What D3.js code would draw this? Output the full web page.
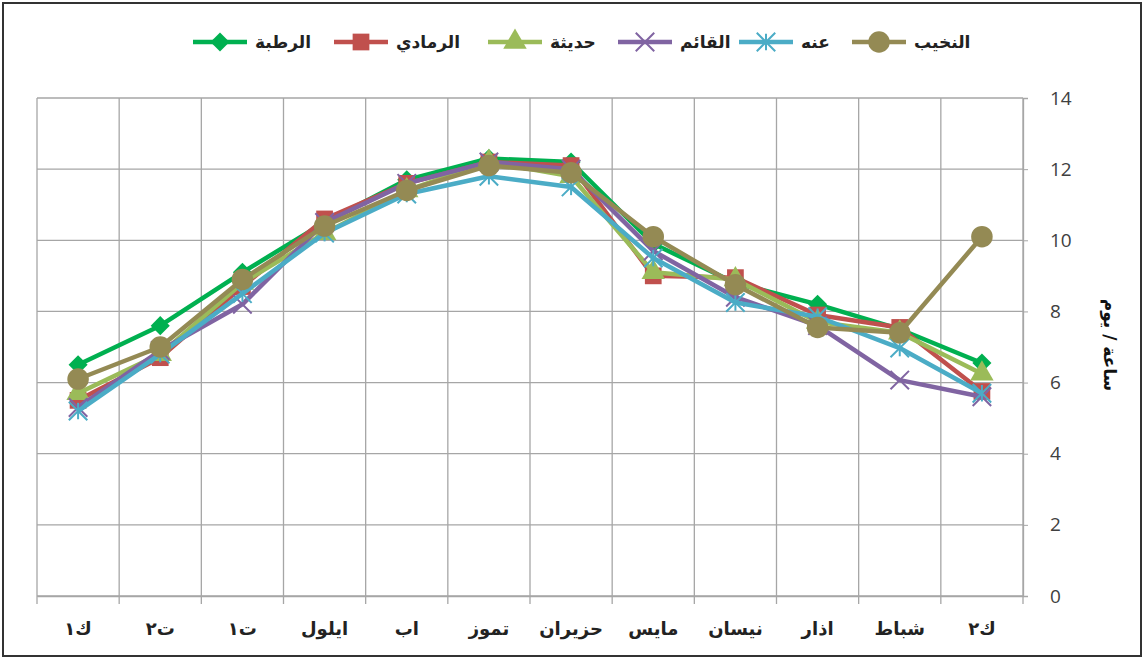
<!DOCTYPE html>
<html>
<head>
<meta charset="utf-8">
<script src="https://cdn.jsdelivr.net/npm/d3@7"></script>
<style>
  body { margin: 0; background: #fff; }
  svg { font-family: Arial, "DejaVu Sans", sans-serif; }
</style>
</head>
<body>
<div class="canvas"></div>
<script>
// months, left to right as in the picture (right-to-left calendar)
const months = ['ك١', 'ت٢', 'ت١', 'ايلول', 'اب', 'تموز', 'حزيران', 'مايس', 'نيسان', 'اذار', 'شباط', 'ك٢'];
const yTicks = [0, 2, 4, 6, 8, 10, 12, 14];

const rutba   = [6.5, 7.6, 9.1, 10.5, 11.7, 12.3, 12.2, 9.9, 8.8, 8.2, 7.5, 6.55];
const ramadi  = [5.5, 6.7, 8.7, 10.6, 11.6, 12.2, 12.1, 9.0, 8.95, 7.9, 7.55, 5.75];
const haditha = [5.7, 6.8, 8.8, 10.2, 11.4, 12.2, 11.8, 9.1, 8.9, 7.7, 7.4, 6.25];
const qaim    = [5.3, 6.9, 8.2, 10.5, 11.6, 12.2, 12.0, 9.7, 8.4, 7.6, 6.07, 5.6];
const ana     = [5.2, 6.8, 8.5, 10.2, 11.3, 11.8, 11.5, 9.5, 8.25, 7.85, 6.97, 5.7];
const nukhaib = [6.1, 7.0, 8.9, 10.4, 11.4, 12.1, 11.9, 10.1, 8.75, 7.55, 7.4, 10.1];

const series = [
  { name: 'الرطبة', values: rutba, color: '#00b050', marker: 'diamond' },
  { name: 'الرمادي', values: ramadi, color: '#c0504d', marker: 'square' },
  { name: 'حديثة', values: haditha, color: '#9bbb59', marker: 'triangle' },
  { name: 'القائم', values: qaim, color: '#8064a2', marker: 'x' },
  { name: 'عنه', values: ana, color: '#4bacc6', marker: 'star' },
  { name: 'النخيب', values: nukhaib, color: '#948a54', marker: 'circle' }
];

const W = 1144, H = 661;
const margin = { top: 98, right: 121, bottom: 65, left: 37 };
const graphwidth = W - margin.left - margin.right;
const graphheight = H - margin.top - margin.bottom;

const svg = d3.select('.canvas')
  .append('svg')
  .attr('width', W)
  .attr('height', H);

// outer frame
svg.append('rect')
  .attr('x', 3).attr('y', 3)
  .attr('width', W - 6).attr('height', H - 8)
  .attr('fill', 'none')
  .attr('stroke', '#333')
  .attr('stroke-width', 2);

const graph = svg.append('g')
  .attr('transform', `translate(${margin.left}, ${margin.top})`);

// scales
const x = d3.scaleBand().domain(months).range([0, graphwidth]);
const y = d3.scaleLinear().domain([0, 14]).range([graphheight, 0]);

// gridlines
graph.append('g')
  .selectAll('line')
  .data(yTicks)
  .join('line')
    .attr('x1', 0).attr('x2', graphwidth)
    .attr('y1', d => y(d)).attr('y2', d => y(d))
    .attr('stroke', '#a6a6a6').attr('stroke-width', 1.3);

graph.append('g')
  .selectAll('line')
  .data(months.concat(['end']))
  .join('line')
    .attr('x1', (d, i) => i * x.bandwidth())
    .attr('x2', (d, i) => i * x.bandwidth())
    .attr('y1', 0).attr('y2', graphheight + 8)
    .attr('stroke', '#a6a6a6').attr('stroke-width', 1.3);

// axes
const yAxis = d3.axisRight(y).tickValues(yTicks).tickSize(5).tickPadding(22);
const yaxisGroup = graph.append('g')
  .attr('transform', `translate(${graphwidth}, 0)`)
  .call(yAxis);
yaxisGroup.select('.domain').attr('stroke', '#a6a6a6').attr('stroke-width', 1.3);
yaxisGroup.selectAll('.tick line').attr('stroke', '#a6a6a6');
yaxisGroup.selectAll('text')
  .attr('font-size', 19)
  .attr('fill', '#404040')
  .attr('font-family', '"Open Sans", Arial, sans-serif');

const xAxis = d3.axisBottom(x).tickSize(0).tickPadding(26);
const xaxisGroup = graph.append('g')
  .attr('transform', `translate(0, ${graphheight})`)
  .call(xAxis);
xaxisGroup.select('.domain').attr('stroke', '#a6a6a6').attr('stroke-width', 1.3);
xaxisGroup.selectAll('text')
  .attr('font-size', 18)
  .attr('font-weight', 'bold')
  .attr('fill', '#222')
  .attr('font-family', '"DejaVu Sans", Arial, sans-serif');

// y label
svg.append('text')
  .attr('transform', `translate(1104, 345) rotate(90)`)
  .attr('text-anchor', 'middle')
  .attr('font-size', 17)
  .attr('font-weight', 'bold')
  .attr('fill', '#111')
  .attr('font-family', '"DejaVu Sans", Arial, sans-serif')
  .text('ساعة / يوم');

// marker drawing
const drawMarker = (g, type, color, s) => {
  if (type === 'diamond') {
    g.append('path').attr('d', d3.symbol(d3.symbolSquare, s * 13)())
      .attr('transform', 'rotate(45)').attr('fill', color);
  } else if (type === 'square') {
    g.append('path').attr('d', d3.symbol(d3.symbolSquare, s * 20)()).attr('fill', color);
  } else if (type === 'triangle') {
    g.append('path').attr('d', d3.symbol(d3.symbolTriangle, s * 17)()).attr('fill', color);
  } else if (type === 'circle') {
    g.append('path').attr('d', d3.symbol(d3.symbolCircle, s * 26)()).attr('fill', color);
  } else if (type === 'x') {
    g.append('path').attr('d', d3.symbol(d3.symbolTimes, s * 16)())
      .attr('fill', 'none').attr('stroke', color).attr('stroke-width', 2);
  } else if (type === 'star') {
    g.append('path').attr('d', d3.symbol(d3.symbolTimes, s * 16)())
      .attr('fill', 'none').attr('stroke', color).attr('stroke-width', 2);
    const r = Math.sqrt(s * 16) * 0.55;
    g.append('line').attr('x1', 0).attr('x2', 0).attr('y1', -r).attr('y2', r)
      .attr('stroke', color).attr('stroke-width', 2);
  }
};

// line path generator
const line = d3.line()
  .x((d, i) => x(months[i]) + x.bandwidth() / 2)
  .y(d => y(d));

series.forEach(s => {
  graph.append('path')
    .datum(s.values)
    .attr('fill', 'none')
    .attr('stroke', s.color)
    .attr('stroke-width', 4.5)
    .attr('stroke-linejoin', 'round')
    .attr('d', line);

  s.values.forEach((v, i) => {
    const g = graph.append('g')
      .attr('transform', `translate(${x(months[i]) + x.bandwidth() / 2}, ${y(v)})`);
    drawMarker(g, s.marker, s.color, 14);
  });
});

// legend
const legendX = [193, 334, 488, 618, 739, 852];
const legend = svg.append('g');
series.forEach((s, i) => {
  const g = legend.append('g').attr('transform', `translate(${legendX[i]}, 42)`);
  g.append('line')
    .attr('x1', 0).attr('x2', 54)
    .attr('stroke', s.color).attr('stroke-width', 4.5);
  const m = g.append('g').attr('transform', 'translate(27, 0)');
  drawMarker(m, s.marker, s.color, 14);
  g.append('text')
    .attr('x', 62).attr('y', 0)
    .attr('dy', '0.35em')
    .attr('font-size', 17)
    .attr('font-weight', 'bold')
    .attr('fill', '#222')
    .attr('font-family', '"DejaVu Sans", Arial, sans-serif')
    .text(s.name);
});
</script>
</body>
</html>
